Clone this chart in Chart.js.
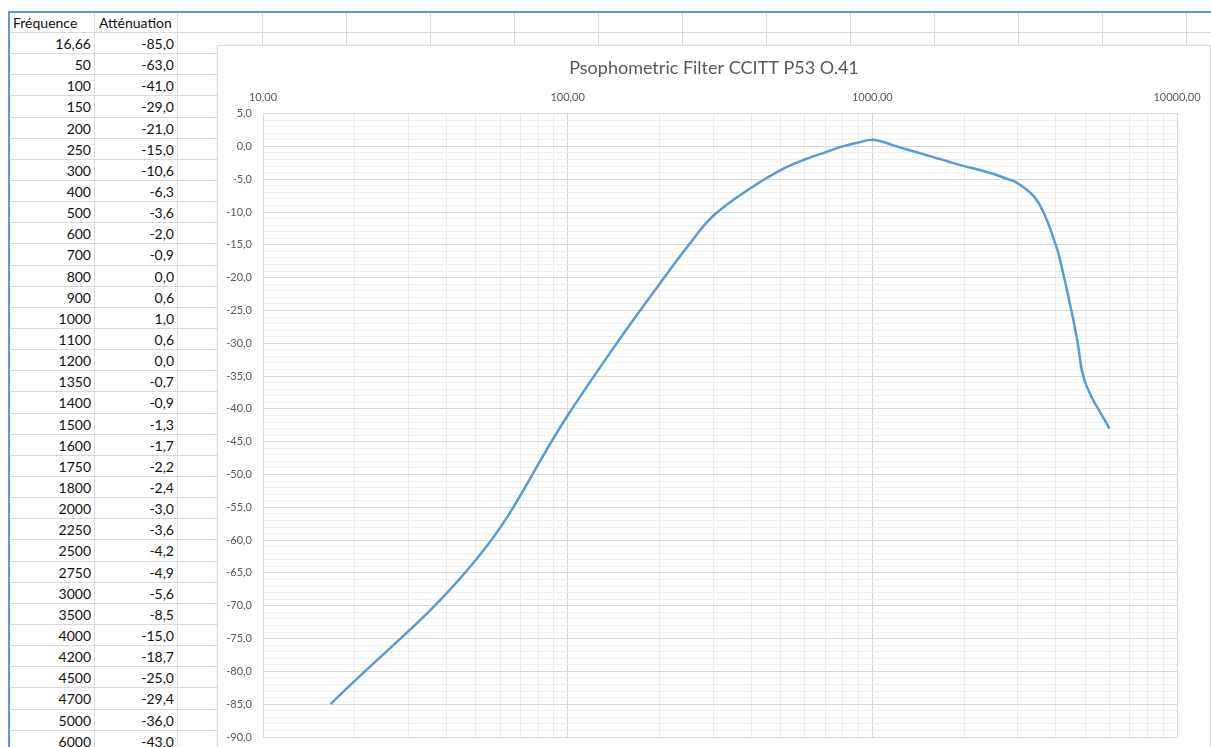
<!DOCTYPE html>
<html>
<head>
<meta charset="utf-8">
<script src="https://cdn.jsdelivr.net/npm/chart.js@4.4.0/dist/chart.umd.min.js"></script>
<style>
html, body { margin:0; padding:0; width:1211px; height:747px; overflow:hidden; background:#fff; font-family: Lato, sans-serif; }
#sheet { position:absolute; left:9px; top:12px; display:grid;
  grid-template-columns: 86px 83px 85px repeat(12, 84px);
  grid-template-rows: 21px repeat(34, 21.15px); }
.cell { box-sizing:border-box; border-right:1px solid #d9d9d9; border-bottom:1px solid #d9d9d9;
  font-size:14px; color:#111; line-height:21px; padding:0 3px 0 4px; white-space:nowrap; overflow:hidden; }
.num { text-align:right; }
#blueTop { position:absolute; left:8px; top:11px; width:1211px; height:2px; background:#5b9bd5; }
#blueLeft { position:absolute; left:8px; top:11px; width:2px; height:740px; background:#5b9bd5; }
#chartBox { position:absolute; left:217px; top:45px; width:992px; height:708px; background:#fff;
  border:1px solid #d9d9d9; box-shadow:0 0 2px rgba(0,0,0,0.08); }
#chart { position:absolute; left:0; top:0; }
</style>
</head>
<body>
<div id="sheet"></div>
<div id="blueTop"></div>
<div id="blueLeft"></div>
<div id="chartBox"><canvas id="chart" width="992" height="700"></canvas></div>
<script>
// values read from the sheet (column A / column B)
const frequences = [16.66, 50, 100, 150, 200, 250, 300, 400, 500, 600, 700, 800, 900, 1000,
                    1100, 1200, 1350, 1400, 1500, 1600, 1750, 1800, 2000, 2250, 2500, 2750,
                    3000, 3500, 4000, 4200, 4500, 4700, 5000, 6000];
const attenuations = [-85.0, -63.0, -41.0, -29.0, -21.0, -15.0, -10.6, -6.3, -3.6, -2.0, -0.9, 0.0,
                      0.6, 1.0, 0.6, 0.0, -0.7, -0.9, -1.3, -1.7, -2.2, -2.4, -3.0, -3.6, -4.2,
                      -4.9, -5.6, -8.5, -15.0, -18.7, -25.0, -29.4, -36.0, -43.0];

const headers = ["Fréquence", "Atténuation"];
const chartTitle = "Psophometric Filter CCITT P53 O.41";

// log axis: decades get a label, 2..9 only a light grid line
const decades = [10, 100, 1000, 10000];
const minorSteps = [2, 3, 4, 5, 6, 7, 8, 9];

const yMin = -90, yMax = 5, yLabelStep = 5;

const frNum = (v, d) => v.toFixed(d).replace('.', ',');

//build the spreadsheet cells
const sheet = document.getElementById('sheet');
const nCols = 15;
for (let r = 0; r <= frequences.length; r++) {
    for (let c = 0; c < nCols; c++) {
        const cell = document.createElement('div');
        cell.className = 'cell';
        if (r === 0 && c < 2) {
            cell.textContent = headers[c];
        } else if (r > 0 && c === 0) {
            const f = frequences[r - 1];
            cell.textContent = Number.isInteger(f) ? String(f) : frNum(f, 2);
            cell.classList.add('num');
        } else if (r > 0 && c === 1) {
            cell.textContent = frNum(attenuations[r - 1], 1);
            cell.classList.add('num');
        }
        sheet.appendChild(cell);
    }
}

const xTickValues = [];
decades.forEach((d, i) => {
    xTickValues.push(d);
    if (i < decades.length - 1) minorSteps.forEach(m => xTickValues.push(d * m));
});

const isDecade = v => Math.abs(Math.log10(v) - Math.round(Math.log10(v))) < 1e-9;
const tickFont = {family: 'Lato', size: 11};

const myChart = new Chart(document.getElementById('chart'), {
    type: 'scatter',
    data: {
        datasets: [{
            data: frequences.map((f, i) => ({x: f, y: attenuations[i]})),
            showLine: true,
            borderColor: '#5b9bd5',
            borderWidth: 2.5,
            pointRadius: 0,
            tension: 0.4,
            fill: false
        }]
    },
    options: {
        responsive: false,
        animation: false,
        devicePixelRatio: 1,
        layout: {padding: {left: 0, top: 0, right: 0, bottom: 9}},
        plugins: {
            legend: {display: false},
            tooltip: {enabled: false},
            title: {
                display: true,
                text: chartTitle,
                color: '#595959',
                font: {family: 'Lato', size: 18, weight: 'normal'},
                padding: {top: 11, bottom: 7.4}
            }
        },
        scales: {
            x: {
                type: 'logarithmic',
                position: 'top',
                min: 10,
                max: 10000,
                afterBuildTicks: s => { s.ticks = xTickValues.map(v => ({value: v})); },
                afterFit: s => { s.height = 27.6; s.paddingLeft = 0; s.paddingRight = 0; },
                ticks: {
                    autoSkip: false, maxRotation: 0, padding: 10, color: '#595959', font: tickFont,
                    callback: v => isDecade(v) ? frNum(v, 2) : ''
                },
                grid: {
                    drawTicks: false,
                    color: ctx => (ctx.tick && isDecade(ctx.tick.value)) ? '#d4d4d4' : '#ececec'
                },
                border: {color: '#d9d9d9'}
            },
            y: {
                min: yMin,
                max: yMax,
                afterFit: s => { s.width = 45; s.paddingTop = 0; s.paddingBottom = 0; },
                ticks: {
                    stepSize: 1, autoSkip: false, padding: 11, color: '#595959', font: tickFont,
                    callback: v => (v % yLabelStep === 0) ? frNum(v, 1) : ''
                },
                grid: {
                    drawTicks: false,
                    color: ctx => (ctx.tick && ctx.tick.value % yLabelStep === 0) ? '#d9d9d9' : '#efefef'
                },
                border: {color: '#d9d9d9'}
            },
            // empty right axis: keeps the plot area off the right edge, title stays centred on the box
            yRight: {
                position: 'right',
                min: yMin,
                max: yMax,
                afterFit: s => { s.width = 33; s.paddingTop = 0; s.paddingBottom = 0; },
                ticks: {display: false},
                grid: {display: false, drawTicks: false},
                border: {display: false}
            }
        }
    }
});
</script>
</body>
</html>
